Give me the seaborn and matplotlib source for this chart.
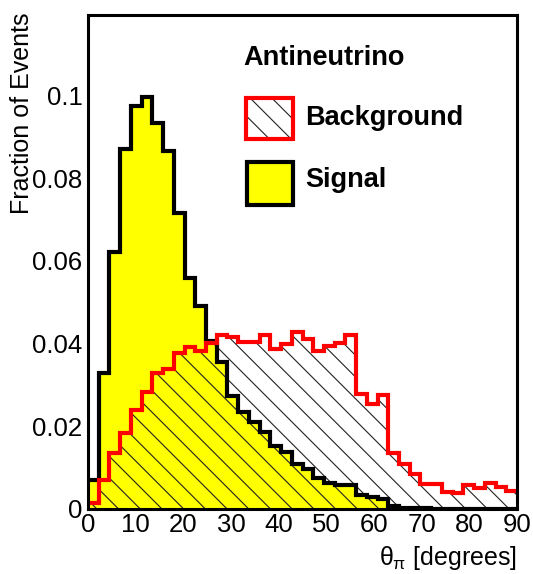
import numpy as np
import pandas as pd
import matplotlib
matplotlib.use("Agg")
import matplotlib.pyplot as plt
import seaborn as sns
from matplotlib.collections import LineCollection
from matplotlib.patches import Rectangle
from matplotlib.transforms import Affine2D
from matplotlib.ticker import MultipleLocator, FuncFormatter

# ---------------- data ----------------
bin_edges = list(np.linspace(0, 90, 41))    # 40 bins of 2.25 degrees
signal = [0.0069, 0.0328, 0.0621, 0.0871, 0.0976, 0.0996, 0.0933, 0.0865,
          0.0715, 0.0560, 0.0490, 0.0407, 0.0355, 0.0274, 0.0234, 0.0210,
          0.0186, 0.0153, 0.0139, 0.0109, 0.0097, 0.0074, 0.0062, 0.0058,
          0.0058, 0.0035, 0.0030, 0.0023, 0.0008, 0.0003, 0.0002, 0.0002,
          0.0001, 0.0001, 0.0001, 0.0001, 0.0001, 0.0000, 0.0000, 0.0000]
background = [0.0014, 0.0069, 0.0135, 0.0183, 0.0240, 0.0282, 0.0329, 0.0339,
              0.0377, 0.0393, 0.0383, 0.0402, 0.0422, 0.0415, 0.0404, 0.0404,
              0.0421, 0.0388, 0.0398, 0.0428, 0.0412, 0.0381, 0.0394, 0.0401,
              0.0420, 0.0278, 0.0254, 0.0276, 0.0136, 0.0109, 0.0084, 0.0061,
              0.0061, 0.0041, 0.0038, 0.0059, 0.0052, 0.0062, 0.0053, 0.0043]
x_ticks = [0, 10, 20, 30, 40, 50, 60, 70, 80, 90]
y_ticks = [0, 0.02, 0.04, 0.06, 0.08, 0.1]
legend_title = "Antineutrino"
legend_labels = ["Background", "Signal"]
x_label = r"$\theta_{\pi}$ [degrees]"
y_label = "Fraction of Events"

edges_arr = np.asarray(bin_edges)
centers = 0.5 * (edges_arr[:-1] + edges_arr[1:])
sig_df = pd.DataFrame({"theta": centers, "frac": signal})
bkg_df = pd.DataFrame({"theta": centers, "frac": background})

# ---------------- style ----------------
sns.set_style("white")
plt.rcParams["font.family"] = ["Liberation Sans", "DejaVu Sans"]
plt.rcParams["mathtext.fontset"] = "custom"
plt.rcParams["mathtext.rm"] = "Liberation Sans"
plt.rcParams["mathtext.it"] = "Liberation Sans"
plt.rcParams["mathtext.bf"] = "Liberation Sans:bold"
plt.rcParams.update({"text.color": "black", "axes.labelcolor": "black",
                     "xtick.color": "black", "ytick.color": "black",
                     "xtick.labelcolor": "black", "ytick.labelcolor": "black"})

W, H = 533, 574
fig = plt.figure(figsize=(W / 100, H / 100), dpi=100)
ax = fig.add_axes([88 / W, 1 - 509 / H, (517 - 88) / W, (509 - 15) / H])
pix = Affine2D().scale(1 / W, 1 / H) + fig.transFigure

# signal: yellow fill
sns.histplot(data=sig_df, x="theta", weights="frac", bins=bin_edges,
             element="step", fill=True, color="#ffff00", alpha=1,
             linewidth=0, ax=ax, zorder=1)
# background: invisible polygon used for hatch clipping
sns.histplot(data=bkg_df, x="theta", weights="frac", bins=bin_edges,
             element="step", fill=True, color="white", alpha=0,
             linewidth=0, ax=ax, zorder=1.1)
bkg_poly = ax.collections[-1]

sp, phase = 21.7, 10.0
cs = np.arange(phase, W + H + sp, sp)
segs = [[(c, 0), (c - H, H)] for c in cs]
hatch = LineCollection(segs, colors="#222222", linewidths=0.8,
                       transform=pix, zorder=1.5)
ax.add_collection(hatch, autolim=False)
hatch.set_clip_path(bkg_poly.get_paths()[0], bkg_poly.get_transform())

# outlines
sns.histplot(data=sig_df, x="theta", weights="frac", bins=bin_edges,
             element="step", fill=False, color="black", linewidth=3,
             ax=ax, zorder=2, solid_joinstyle="miter")
sns.histplot(data=bkg_df, x="theta", weights="frac", bins=bin_edges,
             element="step", fill=False, color="#ff0000", linewidth=3,
             ax=ax, zorder=2.2, solid_joinstyle="miter")

ax.set_xlim(0, 90)
ax.set_ylim(0, 0.1195)
ax.set_xlabel("")
ax.set_ylabel("")
ax.set_axisbelow(False)

ax.xaxis.set_major_locator(plt.FixedLocator(x_ticks))
ax.xaxis.set_minor_locator(MultipleLocator(2))
ax.yaxis.set_major_locator(plt.FixedLocator(y_ticks))
ax.yaxis.set_minor_locator(MultipleLocator(0.005))
ax.xaxis.set_major_formatter(FuncFormatter(lambda v, p: f"{v:g}"))
ax.yaxis.set_major_formatter(FuncFormatter(lambda v, p: "0" if v == 0 else f"{v:g}"))

ax.tick_params(which="both", direction="in", color="black", labelcolor="black",
               width=1.1, top=False, right=False, labelsize=18.5)
ax.tick_params(which="major", length=9.4)
ax.tick_params(which="minor", length=4.7)
ax.tick_params(axis="x", which="major", pad=3)
ax.tick_params(axis="y", which="major", pad=4)
for s in ax.spines.values():
    s.set_linewidth(2.2)
    s.set_color("black")
    s.set_visible(True)

# axis titles
fig.text(517 / W, 1 - 565 / H, x_label, ha="right", va="baseline", fontsize=18,
         color="black")
fig.text(22 / W, 1 - 13 / H, y_label, ha="center", va="top", rotation=90,
         fontsize=18, color="black")

# legend
fig.text(243 / W, 1 - 65 / H, legend_title, fontsize=19.5, fontweight="bold",
         ha="left", va="baseline", color="black")
fig.text(305 / W, 1 - 125 / H, legend_labels[0], fontsize=19.5, fontweight="bold",
         ha="left", va="baseline", color="black")
fig.text(305 / W, 1 - 187 / H, legend_labels[1], fontsize=19.5, fontweight="bold",
         ha="left", va="baseline", color="black")

bkg_box = Rectangle((246, H - 139), 47, 41, transform=pix,
                    facecolor="none", edgecolor="#ff0000", linewidth=3, zorder=3)
fig.add_artist(bkg_box)
box_hatch = LineCollection(segs, colors="#222222", linewidths=0.8,
                           transform=pix, zorder=2.5)
fig.add_artist(box_hatch)
box_hatch.set_clip_path(bkg_box)

sig_box = Rectangle((247, H - 205), 46, 43, transform=pix,
                    facecolor="#ffff00", edgecolor="black", linewidth=3,
                    zorder=3, joinstyle="miter")
fig.add_artist(sig_box)

fig.savefig("out.png", dpi=100)
